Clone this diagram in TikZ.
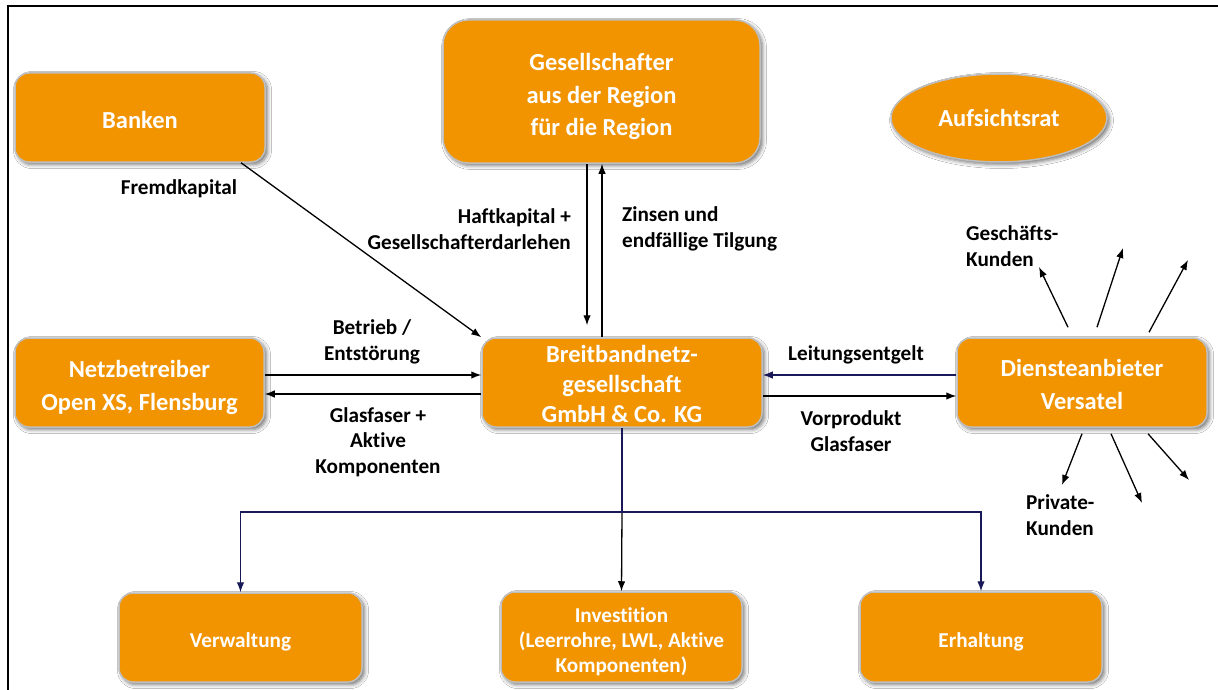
\documentclass[tikz,border=0pt]{standalone}
\usepackage{fontspec}
\setmainfont{Carlito}[Ligatures=NoCommon]
\usetikzlibrary{arrows.meta,shapes.geometric,shadows.blur}
\definecolor{boxorange}{RGB}{242,148,0}
\definecolor{boxborder}{RGB}{190,190,190}
\definecolor{navyline}{RGB}{25,25,90}
\newcommand{\myBigFont}{\fontsize{24.5}{32.5}\selectfont\bfseries}
\newcommand{\myMidFont}{\fontsize{24.5}{30}\selectfont\bfseries}
\newcommand{\mySmallBoxFont}{\fontsize{21.2}{25}\selectfont\bfseries}
\newcommand{\myLabFont}{\fontsize{21.2}{25.5}\selectfont\bfseries}
% pushes the text of a box down by half of #1
\newcommand{\dn}[1]{\rule{0pt}{\dimexpr\fontcharht\font`l+#1\relax}}
\tikzset{
  box/.style={rectangle, rounded corners=14pt, fill=boxorange, draw=boxborder,
    line width=1.5pt, text=white, align=center, inner sep=0pt, font=\myBigFont,
    blur shadow={shadow xshift=2.5pt, shadow yshift=-2.5pt, shadow blur radius=4pt, shadow opacity=55}},
  lab/.style={font=\myLabFont, align=center, inner sep=0pt, text=black},
  arr/.style={-{Latex[length=10pt,width=7.5pt]}, line width=1.3pt, draw=black},
  arrnavy/.style={-{Latex[length=10pt,width=7.5pt]}, line width=1.3pt, draw=navyline},
  navy/.style={line width=1.3pt, draw=navyline},
}
\begin{document}
\begin{tikzpicture}[x=1pt,y=-1pt]
\useasboundingbox (0,0) rectangle (1218,690);
\fill[white] (0,0) rectangle (1218,690);
% frame
\draw[line width=2.5pt] (8,690) -- (8,6) -- (1218,6);

% nodes
\node[box, minimum width=250pt, minimum height=89pt] (banken) at (140,117.5) {\dn{4pt}Banken};
\node[box, rounded corners=25pt, minimum width=317pt, minimum height=143pt] (ges) at (601.5,91.5) {\dn{10pt}Gesellschafter\\aus der Region\\für die Region};
\node[box, ellipse, minimum width=216pt, minimum height=88pt] (auf) at (999,118) {Aufsichtsrat};
\node[box, minimum width=249pt, minimum height=89pt] (netz) at (139.5,382.5) {\dn{10pt}Netzbetreiber\\Open XS, Flensburg};
\node[box, font=\myMidFont, minimum width=280pt, minimum height=89pt] (breit) at (622,382.5) {\dn{3pt}Breitbandnetz-\\gesellschaft\\GmbH \& Co. KG};
\node[box, minimum width=250pt, minimum height=89pt] (dienst) at (1082,382.5) {\dn{4pt}Diensteanbieter\\Versatel};
\node[box, font=\mySmallBoxFont, minimum width=243pt, minimum height=89pt] (verw) at (240.5,637.5) {\dn{8pt}Verwaltung};
\node[box, font=\mySmallBoxFont, minimum width=241pt, minimum height=90pt] (inv) at (621.5,637) {\dn{10pt}Investition\\(Leerrohre, LWL, Aktive\\Komponenten)};
\node[box, font=\mySmallBoxFont, minimum width=242pt, minimum height=90pt] (erh) at (981,637) {\dn{10pt}Erhaltung};

% labels
\node[lab] (lfremd) at (179,189) {Fremdkapital};
\node[lab, align=right, anchor=east] (lhaft) at (571,229) {Haftkapital +\\Gesellschafterdarlehen};
\node[lab, align=left, anchor=west] (lzins) at (622,229) {Zinsen und\\endfällige Tilgung};
\node[lab] (lbetrieb) at (372,342) {Betrieb /\\Entstörung};
\node[lab] (lglas) at (378,442) {Glasfaser +\\Aktive\\Komponenten};
\node[lab] (lleit) at (856,355) {Leitungsentgelt};
\node[lab] (lvor) at (851,431) {Vorprodukt\\Glasfaser};
\node[lab, align=left, anchor=west] (lgesch) at (966,246) {Geschäfts-\\Kunden};
\node[lab, align=left, anchor=west] (lpriv) at (1026,515) {Private-\\Kunden};

% connectors
\draw[arr] ([xshift=101pt]banken.south) -- (breit.north west);
\draw[arr, shorten >=12pt] ([xshift=-14.5pt]ges.south) -- ([xshift=-35pt]breit.north);
\draw[arr] ([xshift=-20pt]breit.north) -- ([xshift=0.5pt]ges.south);
\draw[arr] ([yshift=7.5pt]netz.east) -- ([yshift=7.5pt]breit.west);
\draw[arr] ([yshift=-11.5pt]breit.west) -- ([yshift=-11.5pt]netz.east);
\draw[arrnavy] ([yshift=7.5pt]dienst.west) -- ([yshift=7.5pt]breit.east);
\draw[arr] ([yshift=-13.5pt]breit.east) -- ([yshift=-13.5pt]dienst.west);

% tree below
\coordinate (hub) at (622,512);
\draw[navy] (breit.south) -- (hub);
\draw[arr] (hub) -- (inv.north);
\draw[arrnavy] (hub) -| (verw.north);
\draw[arrnavy] (hub) -| (erh.north);

% customers
\coordinate (g1) at (1039,267);
\coordinate (g2) at (1123,248);
\coordinate (g3) at (1188,260);
\coordinate (p1) at (1062,485);
\coordinate (p2) at (1142,503);
\coordinate (p3) at (1189,480);
\draw[arr] ([xshift=-14pt,yshift=10pt]dienst.north) -- (g1);
\draw[arr] ([xshift=15pt,yshift=10pt]dienst.north) -- (g2);
\draw[arr] ([xshift=67pt,yshift=5pt]dienst.north) -- (g3);
\draw[arr] ([xshift=0pt,yshift=-6pt]dienst.south) -- (p1);
\draw[arr] ([xshift=29pt,yshift=-6pt]dienst.south) -- (p2);
\draw[arr] ([xshift=66pt,yshift=-6pt]dienst.south) -- (p3);
\end{tikzpicture}
\end{document}
